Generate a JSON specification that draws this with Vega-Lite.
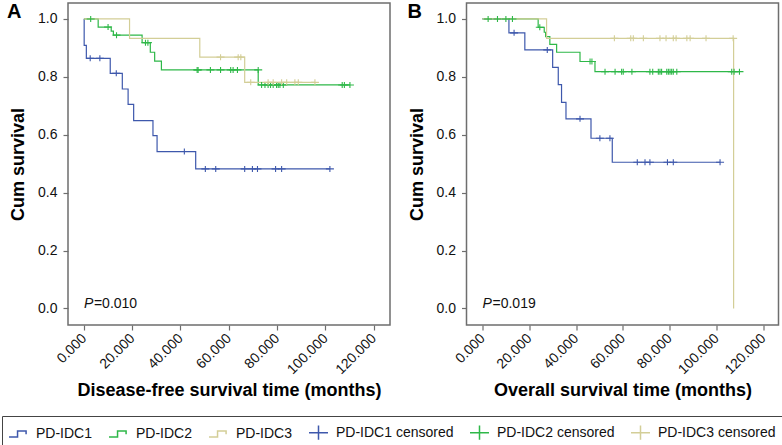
{
  "$schema": "https://vega.github.io/schema/vega-lite/v6.json",
  "background": "white",
  "padding": {"left": 1, "top": 1, "right": 2, "bottom": 2},
  "config": {
    "font": "Liberation Sans",
    "view": {"stroke": "#6e6e6e", "strokeWidth": 1.5},
    "axis": {"domain": false, "grid": false, "tickColor": "#6e6e6e", "tickSize": 5, "tickWidth": 1.2, "labelFontSize": 14, "labelColor": "#111", "titleFontSize": 18, "titleFontWeight": "bold", "titleColor": "#000"},
    "title": {"fontSize": 20, "fontWeight": "bold", "color": "#000", "anchor": "start", "frame": "group", "offset": 0}
  },
  "datasets": {
    "steps": [
      {"p":"A","s":"PD-IDC1","t":0,"S":1},{"p":"A","s":"PD-IDC1","t":0.1,"S":0.909},{"p":"A","s":"PD-IDC1","t":1.0,"S":0.864},{"p":"A","s":"PD-IDC1","t":10.9,"S":0.812},{"p":"A","s":"PD-IDC1","t":15.9,"S":0.758},{"p":"A","s":"PD-IDC1","t":18.3,"S":0.705},{"p":"A","s":"PD-IDC1","t":20.6,"S":0.649},{"p":"A","s":"PD-IDC1","t":28.6,"S":0.597},{"p":"A","s":"PD-IDC1","t":30.3,"S":0.542},{"p":"A","s":"PD-IDC1","t":46.3,"S":0.482},{"p":"A","s":"PD-IDC1","t":101.9,"S":0.482},
      {"p":"A","s":"PD-IDC2","t":0,"S":1},{"p":"A","s":"PD-IDC2","t":5.9,"S":0.972},{"p":"A","s":"PD-IDC2","t":11.3,"S":0.958},{"p":"A","s":"PD-IDC2","t":12.2,"S":0.944},{"p":"A","s":"PD-IDC2","t":24.1,"S":0.918},{"p":"A","s":"PD-IDC2","t":27.5,"S":0.885},{"p":"A","s":"PD-IDC2","t":29.3,"S":0.854},{"p":"A","s":"PD-IDC2","t":32.1,"S":0.824},{"p":"A","s":"PD-IDC2","t":72.2,"S":0.772},{"p":"A","s":"PD-IDC2","t":110.2,"S":0.772},
      {"p":"A","s":"PD-IDC3","t":0,"S":1},{"p":"A","s":"PD-IDC3","t":18.9,"S":0.933},{"p":"A","s":"PD-IDC3","t":48,"S":0.868},{"p":"A","s":"PD-IDC3","t":66.6,"S":0.781},{"p":"A","s":"PD-IDC3","t":95.7,"S":0.781},
      {"p":"B","s":"PD-IDC1","t":0,"S":1},{"p":"B","s":"PD-IDC1","t":11.3,"S":0.952},{"p":"B","s":"PD-IDC1","t":18.1,"S":0.893},{"p":"B","s":"PD-IDC1","t":30,"S":0.833},{"p":"B","s":"PD-IDC1","t":32.4,"S":0.773},{"p":"B","s":"PD-IDC1","t":33.8,"S":0.712},{"p":"B","s":"PD-IDC1","t":35.7,"S":0.655},{"p":"B","s":"PD-IDC1","t":46.4,"S":0.588},{"p":"B","s":"PD-IDC1","t":55.5,"S":0.505},{"p":"B","s":"PD-IDC1","t":101.6,"S":0.505},
      {"p":"B","s":"PD-IDC2","t":0,"S":1},{"p":"B","s":"PD-IDC2","t":23.8,"S":0.971},{"p":"B","s":"PD-IDC2","t":26.4,"S":0.954},{"p":"B","s":"PD-IDC2","t":27.0,"S":0.939},{"p":"B","s":"PD-IDC2","t":28.8,"S":0.912},{"p":"B","s":"PD-IDC2","t":31.7,"S":0.885},{"p":"B","s":"PD-IDC2","t":41.7,"S":0.853},{"p":"B","s":"PD-IDC2","t":48.1,"S":0.818},{"p":"B","s":"PD-IDC2","t":109.9,"S":0.818},
      {"p":"B","s":"PD-IDC3","t":0,"S":1},{"p":"B","s":"PD-IDC3","t":27.4,"S":0.933},{"p":"B","s":"PD-IDC3","t":107.3,"S":0.933},{"p":"B","s":"PD-IDC3","t":107.4,"S":0}
    ],
    "cens": [
      {"p":"A","s":"PD-IDC1 censored","t":2.6,"S":0.864},{"p":"A","s":"PD-IDC1 censored","t":6.6,"S":0.864},{"p":"A","s":"PD-IDC1 censored","t":13.4,"S":0.812},{"p":"A","s":"PD-IDC1 censored","t":41.6,"S":0.542},{"p":"A","s":"PD-IDC1 censored","t":50.3,"S":0.482},{"p":"A","s":"PD-IDC1 censored","t":54.6,"S":0.482},{"p":"A","s":"PD-IDC1 censored","t":66.6,"S":0.482},{"p":"A","s":"PD-IDC1 censored","t":69.8,"S":0.482},{"p":"A","s":"PD-IDC1 censored","t":71.9,"S":0.482},{"p":"A","s":"PD-IDC1 censored","t":79.4,"S":0.482},{"p":"A","s":"PD-IDC1 censored","t":81.9,"S":0.482},{"p":"A","s":"PD-IDC1 censored","t":101.9,"S":0.482},
      {"p":"A","s":"PD-IDC2 censored","t":2.8,"S":1},{"p":"A","s":"PD-IDC2 censored","t":10,"S":0.972},{"p":"A","s":"PD-IDC2 censored","t":13.5,"S":0.944},{"p":"A","s":"PD-IDC2 censored","t":25.5,"S":0.918},{"p":"A","s":"PD-IDC2 censored","t":26.5,"S":0.918},{"p":"A","s":"PD-IDC2 censored","t":46.9,"S":0.824},{"p":"A","s":"PD-IDC2 censored","t":47.3,"S":0.824},{"p":"A","s":"PD-IDC2 censored","t":52.4,"S":0.824},{"p":"A","s":"PD-IDC2 censored","t":56.6,"S":0.824},{"p":"A","s":"PD-IDC2 censored","t":60.8,"S":0.824},{"p":"A","s":"PD-IDC2 censored","t":61.8,"S":0.824},{"p":"A","s":"PD-IDC2 censored","t":63.6,"S":0.824},{"p":"A","s":"PD-IDC2 censored","t":72.2,"S":0.824},{"p":"A","s":"PD-IDC2 censored","t":73.6,"S":0.772},{"p":"A","s":"PD-IDC2 censored","t":75,"S":0.772},{"p":"A","s":"PD-IDC2 censored","t":76.3,"S":0.772},{"p":"A","s":"PD-IDC2 censored","t":77.3,"S":0.772},{"p":"A","s":"PD-IDC2 censored","t":78.4,"S":0.772},{"p":"A","s":"PD-IDC2 censored","t":79.8,"S":0.772},{"p":"A","s":"PD-IDC2 censored","t":80.5,"S":0.772},{"p":"A","s":"PD-IDC2 censored","t":81.2,"S":0.772},{"p":"A","s":"PD-IDC2 censored","t":82.6,"S":0.772},{"p":"A","s":"PD-IDC2 censored","t":107,"S":0.772},{"p":"A","s":"PD-IDC2 censored","t":107.9,"S":0.772},{"p":"A","s":"PD-IDC2 censored","t":110.2,"S":0.772},
      {"p":"A","s":"PD-IDC3 censored","t":56.6,"S":0.868},{"p":"A","s":"PD-IDC3 censored","t":63.9,"S":0.868},{"p":"A","s":"PD-IDC3 censored","t":65,"S":0.868},{"p":"A","s":"PD-IDC3 censored","t":69.1,"S":0.781},{"p":"A","s":"PD-IDC3 censored","t":76.3,"S":0.781},{"p":"A","s":"PD-IDC3 censored","t":78.4,"S":0.781},{"p":"A","s":"PD-IDC3 censored","t":81.9,"S":0.781},{"p":"A","s":"PD-IDC3 censored","t":84,"S":0.781},{"p":"A","s":"PD-IDC3 censored","t":87.4,"S":0.781},{"p":"A","s":"PD-IDC3 censored","t":88.8,"S":0.781},{"p":"A","s":"PD-IDC3 censored","t":95.7,"S":0.781},
      {"p":"B","s":"PD-IDC1 censored","t":13.5,"S":0.952},{"p":"B","s":"PD-IDC1 censored","t":27.7,"S":0.893},{"p":"B","s":"PD-IDC1 censored","t":41.7,"S":0.655},{"p":"B","s":"PD-IDC1 censored","t":50.2,"S":0.588},{"p":"B","s":"PD-IDC1 censored","t":54.5,"S":0.588},{"p":"B","s":"PD-IDC1 censored","t":66.2,"S":0.505},{"p":"B","s":"PD-IDC1 censored","t":69.5,"S":0.505},{"p":"B","s":"PD-IDC1 censored","t":71.6,"S":0.505},{"p":"B","s":"PD-IDC1 censored","t":79.1,"S":0.505},{"p":"B","s":"PD-IDC1 censored","t":81.6,"S":0.505},{"p":"B","s":"PD-IDC1 censored","t":101.6,"S":0.505},
      {"p":"B","s":"PD-IDC2 censored","t":2.4,"S":1},{"p":"B","s":"PD-IDC2 censored","t":6.4,"S":1},{"p":"B","s":"PD-IDC2 censored","t":10,"S":1},{"p":"B","s":"PD-IDC2 censored","t":12.8,"S":1},{"p":"B","s":"PD-IDC2 censored","t":24.5,"S":0.971},{"p":"B","s":"PD-IDC2 censored","t":46,"S":0.853},{"p":"B","s":"PD-IDC2 censored","t":46.8,"S":0.853},{"p":"B","s":"PD-IDC2 censored","t":52.4,"S":0.818},{"p":"B","s":"PD-IDC2 censored","t":56.7,"S":0.818},{"p":"B","s":"PD-IDC2 censored","t":59.5,"S":0.818},{"p":"B","s":"PD-IDC2 censored","t":60.2,"S":0.818},{"p":"B","s":"PD-IDC2 censored","t":63.9,"S":0.818},{"p":"B","s":"PD-IDC2 censored","t":71.6,"S":0.818},{"p":"B","s":"PD-IDC2 censored","t":72.8,"S":0.818},{"p":"B","s":"PD-IDC2 censored","t":75.2,"S":0.818},{"p":"B","s":"PD-IDC2 censored","t":75.9,"S":0.818},{"p":"B","s":"PD-IDC2 censored","t":76.6,"S":0.818},{"p":"B","s":"PD-IDC2 censored","t":78.8,"S":0.818},{"p":"B","s":"PD-IDC2 censored","t":79.5,"S":0.818},{"p":"B","s":"PD-IDC2 censored","t":80.2,"S":0.818},{"p":"B","s":"PD-IDC2 censored","t":80.9,"S":0.818},{"p":"B","s":"PD-IDC2 censored","t":81.6,"S":0.818},{"p":"B","s":"PD-IDC2 censored","t":83.1,"S":0.818},{"p":"B","s":"PD-IDC2 censored","t":106.6,"S":0.818},{"p":"B","s":"PD-IDC2 censored","t":107.6,"S":0.818},{"p":"B","s":"PD-IDC2 censored","t":109.9,"S":0.818},
      {"p":"B","s":"PD-IDC3 censored","t":56.4,"S":0.933},{"p":"B","s":"PD-IDC3 censored","t":63.4,"S":0.933},{"p":"B","s":"PD-IDC3 censored","t":64.5,"S":0.933},{"p":"B","s":"PD-IDC3 censored","t":68.8,"S":0.933},{"p":"B","s":"PD-IDC3 censored","t":75.9,"S":0.933},{"p":"B","s":"PD-IDC3 censored","t":78.5,"S":0.933},{"p":"B","s":"PD-IDC3 censored","t":81.6,"S":0.933},{"p":"B","s":"PD-IDC3 censored","t":82.8,"S":0.933},{"p":"B","s":"PD-IDC3 censored","t":87.4,"S":0.933},{"p":"B","s":"PD-IDC3 censored","t":88.8,"S":0.933},{"p":"B","s":"PD-IDC3 censored","t":95.6,"S":0.933},{"p":"B","s":"PD-IDC3 censored","t":107.2,"S":0.933}
    ]
  },
  "spacing": 15.5,
  "resolve": {"scale": {"color": "shared", "shape": "shared"}, "legend": {"color": "shared", "shape": "shared"}},
  "hconcat": [
    {
      "width": 322, "height": 322,
      "title": {"text": "A", "dx": -61, "dy": 23},
      "layer": [
        {
          "data": {"name": "steps"},
          "transform": [{"filter": "datum.p === 'A'"}],
          "mark": {"type": "line", "interpolate": "step-after", "strokeWidth": 1.2},
          "encoding": {
            "x": {"field": "t", "type": "quantitative", "scale": {"domain": [-6.6, 126.8], "nice": false, "zero": false}, "axis": {"values": [0, 20, 40, 60, 80, 100, 120], "format": ".3f", "labelAngle": -45, "labelAlign": "right", "labelBaseline": "middle", "labelPadding": 6, "title": "Disease-free survival time (months)", "titlePadding": 5}},
            "y": {"field": "S", "type": "quantitative", "scale": {"domain": [-0.057, 1.055], "nice": false, "zero": false}, "axis": {"values": [0, 0.2, 0.4, 0.6, 0.8, 1], "format": ".1f", "labelPadding": 6, "title": "Cum survival", "titlePadding": 10}},
            "color": {"field": "s", "type": "nominal", "scale": {"domain": ["PD-IDC1", "PD-IDC2", "PD-IDC3", "PD-IDC1 censored", "PD-IDC2 censored", "PD-IDC3 censored"], "range": ["#3e58ac", "#2eb848", "#d3ce97", "#3e58ac", "#2eb848", "#d3ce97"]}, "legend": {"orient": "none", "legendX": -66, "legendY": 413, "direction": "horizontal", "columns": 6, "title": null, "symbolSize": 360, "symbolStrokeWidth": 1.5, "labelFontSize": 14, "labelColor": "#111", "labelOffset": 7, "columnPadding": 13, "strokeColor": "#444", "fillColor": "white", "padding": 6}}
          }
        },
        {
          "data": {"name": "cens"},
          "transform": [{"filter": "datum.p === 'A'"}],
          "mark": {"type": "point", "filled": false, "strokeWidth": 1.1, "size": 64, "opacity": 1},
          "encoding": {
            "x": {"field": "t", "type": "quantitative"},
            "y": {"field": "S", "type": "quantitative"},
            "color": {"field": "s", "type": "nominal"},
            "shape": {"field": "s", "type": "nominal", "scale": {"domain": ["PD-IDC1", "PD-IDC2", "PD-IDC3", "PD-IDC1 censored", "PD-IDC2 censored", "PD-IDC3 censored"], "range": ["M-1,0.3H-0.1V-0.35H0.8V0", "M-1,0.3H-0.1V-0.35H0.8V0", "M-1,0.3H-0.1V-0.35H0.8V0", "M-1,0H1M0,-0.75V0.75", "M-1,0H1M0,-0.75V0.75", "M-1,0H1M0,-0.75V0.75"]}, "legend": {"orient": "none", "legendX": -66, "legendY": 413, "direction": "horizontal", "columns": 6, "title": null}}
          }
        },
        {
          "data": {"values": [{}]},
          "mark": {"type": "text", "align": "left", "baseline": "alphabetic", "fontSize": 14, "fontStyle": "italic", "color": "#111"},
          "encoding": {"x": {"datum": 0, "type": "quantitative"}, "y": {"datum": 0, "type": "quantitative"}, "text": {"value": "P"}}
        },
        {
          "data": {"values": [{}]},
          "mark": {"type": "text", "align": "left", "baseline": "alphabetic", "fontSize": 14, "dx": 10, "color": "#111"},
          "encoding": {"x": {"datum": 0, "type": "quantitative"}, "y": {"datum": 0, "type": "quantitative"}, "text": {"value": "=0.010"}}
        }
      ]
    },
    {
      "width": 312, "height": 322,
      "title": {"text": "B", "dx": -59, "dy": 23},
      "layer": [
        {
          "data": {"name": "steps"},
          "transform": [{"filter": "datum.p === 'B'"}],
          "mark": {"type": "line", "interpolate": "step-after", "strokeWidth": 1.2},
          "encoding": {
            "x": {"field": "t", "type": "quantitative", "scale": {"domain": [-6.85, 126.6], "nice": false, "zero": false}, "axis": {"values": [0, 20, 40, 60, 80, 100, 120], "format": ".3f", "labelAngle": -45, "labelAlign": "right", "labelBaseline": "middle", "labelPadding": 6, "title": "Overall survival time (months)", "titlePadding": 5}},
            "y": {"field": "S", "type": "quantitative", "scale": {"domain": [-0.057, 1.055], "nice": false, "zero": false}, "axis": {"values": [0, 0.2, 0.4, 0.6, 0.8, 1], "format": ".1f", "labelPadding": 6, "title": "Cum survival", "titlePadding": 10}},
            "color": {"field": "s", "type": "nominal"}
          }
        },
        {
          "data": {"name": "cens"},
          "transform": [{"filter": "datum.p === 'B'"}],
          "mark": {"type": "point", "filled": false, "strokeWidth": 1.1, "size": 64, "opacity": 1},
          "encoding": {
            "x": {"field": "t", "type": "quantitative"},
            "y": {"field": "S", "type": "quantitative"},
            "color": {"field": "s", "type": "nominal"},
            "shape": {"field": "s", "type": "nominal"}
          }
        },
        {
          "data": {"values": [{}]},
          "mark": {"type": "text", "align": "left", "baseline": "alphabetic", "fontSize": 14, "fontStyle": "italic", "color": "#111"},
          "encoding": {"x": {"datum": 0, "type": "quantitative"}, "y": {"datum": 0, "type": "quantitative"}, "text": {"value": "P"}}
        },
        {
          "data": {"values": [{}]},
          "mark": {"type": "text", "align": "left", "baseline": "alphabetic", "fontSize": 14, "dx": 10, "color": "#111"},
          "encoding": {"x": {"datum": 0, "type": "quantitative"}, "y": {"datum": 0, "type": "quantitative"}, "text": {"value": "=0.019"}}
        }
      ]
    }
  ]
}
